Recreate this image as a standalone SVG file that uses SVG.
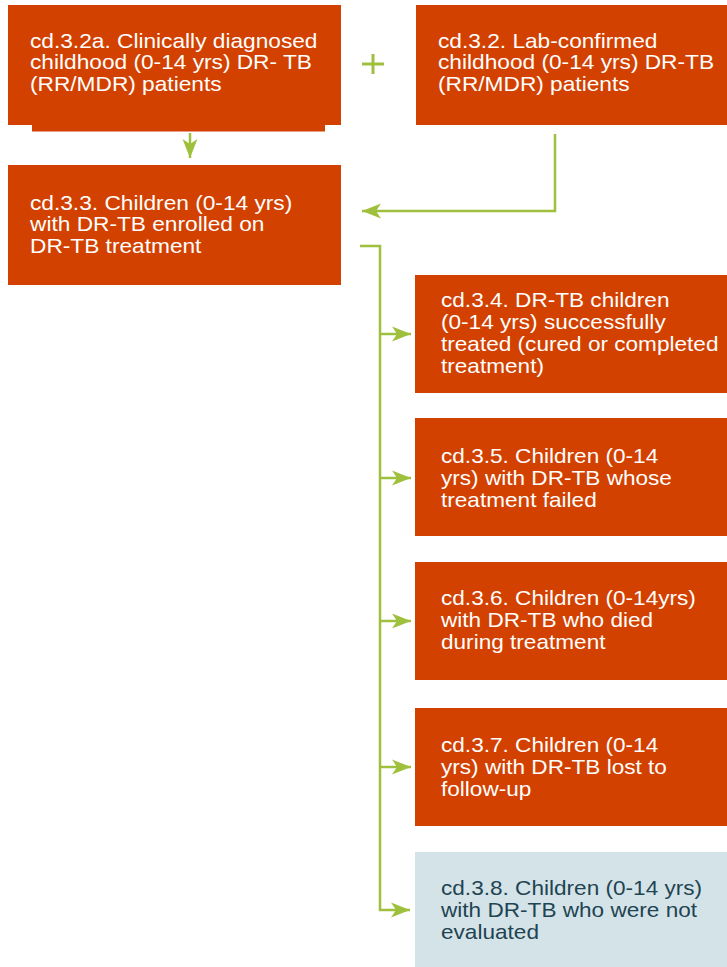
<svg xmlns="http://www.w3.org/2000/svg" width="727" height="967" viewBox="0 0 727 967">
<defs>
<style>
.box{fill:#d34100}
.box2{fill:#d4e3e8}
.t{font-family:"Liberation Sans",Arial,sans-serif;font-size:20px;fill:#ffffff}
.td{font-family:"Liberation Sans",Arial,sans-serif;font-size:20px;fill:#1f4452}
.ln{fill:none;stroke:#9fc03c;stroke-width:2.5}
</style>
<marker id="ah" markerUnits="userSpaceOnUse" markerWidth="24" markerHeight="20" viewBox="-20 -10 24 20" refX="0" refY="0" orient="auto">
<path d="M0,0 L-19,-7.5 L-14,0 L-19,7.5 Z" fill="#9fc03c"/>
</marker>
</defs>
<rect width="727" height="967" fill="#ffffff"/>
<g id="cd322a">
<rect class="box" x="8" y="5" width="333" height="120"/>
<rect class="box" x="32" y="120" width="293" height="11.5"/>
<text class="t" transform="translate(30 48) scale(1.135 1)"><tspan x="0" y="0">cd.3.2a. Clinically diagnosed</tspan><tspan x="0" y="21.5">childhood (0-14 yrs) DR- TB</tspan><tspan x="0" y="43">(RR/MDR) patients</tspan></text>
</g>
<g id="plus">
<path d="M362,64 H384 M373,54 V74" stroke="#9fc03c" stroke-width="3" fill="none"/>
</g>
<g id="cd322">
<rect class="box" x="416" y="5" width="311" height="120"/>
<text class="t" transform="translate(438 48) scale(1.135 1)"><tspan x="0" y="0">cd.3.2. Lab-confirmed</tspan><tspan x="0" y="21.5">childhood (0-14 yrs) DR-TB</tspan><tspan x="0" y="43">(RR/MDR) patients</tspan></text>
</g>
<g id="cd33">
<rect class="box" x="8" y="165" width="333" height="120"/>
<text class="t" transform="translate(30 210) scale(1.135 1)"><tspan x="0" y="0">cd.3.3. Children (0-14 yrs)</tspan><tspan x="0" y="21.5">with DR-TB enrolled on</tspan><tspan x="0" y="43">DR-TB treatment</tspan></text>
</g>
<g id="cd34">
<rect class="box" x="415" y="275" width="312" height="118"/>
<text class="t" transform="translate(441 307) scale(1.13 1)"><tspan x="0" y="0">cd.3.4. DR-TB children</tspan><tspan x="0" y="22">(0-14 yrs) successfully</tspan><tspan x="0" y="44">treated (cured or completed</tspan><tspan x="0" y="66">treatment)</tspan></text>
</g>
<g id="cd35">
<rect class="box" x="415" y="418" width="312" height="118"/>
<text class="t" transform="translate(441 463) scale(1.13 1)"><tspan x="0" y="0">cd.3.5. Children (0-14</tspan><tspan x="0" y="22">yrs) with DR-TB whose</tspan><tspan x="0" y="44">treatment failed</tspan></text>
</g>
<g id="cd36">
<rect class="box" x="415" y="562" width="312" height="118"/>
<text class="t" transform="translate(441 605) scale(1.13 1)"><tspan x="0" y="0">cd.3.6. Children (0-14yrs)</tspan><tspan x="0" y="22">with DR-TB who died</tspan><tspan x="0" y="44">during treatment</tspan></text>
</g>
<g id="cd37">
<rect class="box" x="415" y="708" width="312" height="118"/>
<text class="t" transform="translate(441 752) scale(1.13 1)"><tspan x="0" y="0">cd.3.7. Children (0-14</tspan><tspan x="0" y="22">yrs) with DR-TB lost to</tspan><tspan x="0" y="44">follow-up</tspan></text>
</g>
<g id="cd38">
<rect class="box2" x="415" y="852" width="312" height="115"/>
<text class="td" transform="translate(441 895) scale(1.13 1)"><tspan x="0" y="0">cd.3.8. Children (0-14 yrs)</tspan><tspan x="0" y="22">with DR-TB who were not</tspan><tspan x="0" y="44">evaluated</tspan></text>
</g>
<g id="connectors">
<path class="ln" d="M190,133 V158" marker-end="url(#ah)"/>
<path class="ln" d="M555,134 V211 H362" marker-end="url(#ah)"/>
<path class="ln" d="M360,246 H380 V910 H410" marker-end="url(#ah)"/>
<path class="ln" d="M380,334 H411" marker-end="url(#ah)"/>
<path class="ln" d="M380,478 H411" marker-end="url(#ah)"/>
<path class="ln" d="M380,621 H411" marker-end="url(#ah)"/>
<path class="ln" d="M380,767 H411" marker-end="url(#ah)"/>
</g>
</svg>
